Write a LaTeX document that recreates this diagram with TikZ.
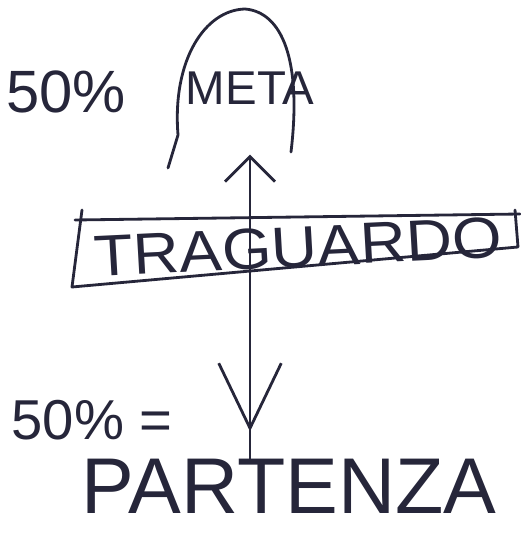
\documentclass[tikz,border=0pt]{standalone}
\usepackage{fontspec}
\setmainfont{Liberation Sans}
\usetikzlibrary{arrows.meta,decorations.markings}

\begin{document}
\begin{tikzpicture}[x=0.02cm, y=-0.02cm, line cap=round, line join=round]
        \definecolor{ink}{RGB}{38,38,58}
        \tikzstyle{inkLine} = [draw=ink, line width=1.6pt]
        \tikzstyle{textStyle} = [text=ink, inner sep=0pt]
        \tikzstyle{twoWay} = [inkLine, -{Straight Barb[length=0.5cm, width=1cm]},
            postaction={decorate}, decoration={markings,
            mark=at position 0.54cm with {\arrowreversed[color=ink, line width=1.6pt]{Straight Barb[length=1.3cm, width=1.25cm]}}}]
        \useasboundingbox (0,0) rectangle (520,533);
        \node[textStyle, font=\fontsize{34}{34}\selectfont] (fiftyTop) at (66,92) {50\%};
        \node[textStyle, font=\fontsize{27}{27}\selectfont] (meta) at (250,88) {META};
        \node[textStyle, font=\fontsize{33}{33}\selectfont, xscale=1.1, rotate=3] (traguardo) at (298,247) {TRAGUARDO};
        \node[textStyle, font=\fontsize{32}{32}\selectfont] (fiftyBottom) at (92,420) {50\% =};
        \node[textStyle, font=\fontsize{45}{45}\selectfont] (partenza) at (289,486) {PARTENZA};
        % dome round meta
        \path[inkLine] (168,168) -- (178,135) .. controls (172,60) and (205,10) .. (245,9)
            .. controls (282,12) and (302,60) .. (291,152);
        % box round traguardo
        \path[inkLine] (82,210) -- (72,287) -- (518,247) -- (515,210);
        \path[inkLine] (75,220) -- (520,214);
        \path[twoWay] (partenza.north -| meta) -- ([yshift=-1cm]meta.south);
\end{tikzpicture}
\end{document}
